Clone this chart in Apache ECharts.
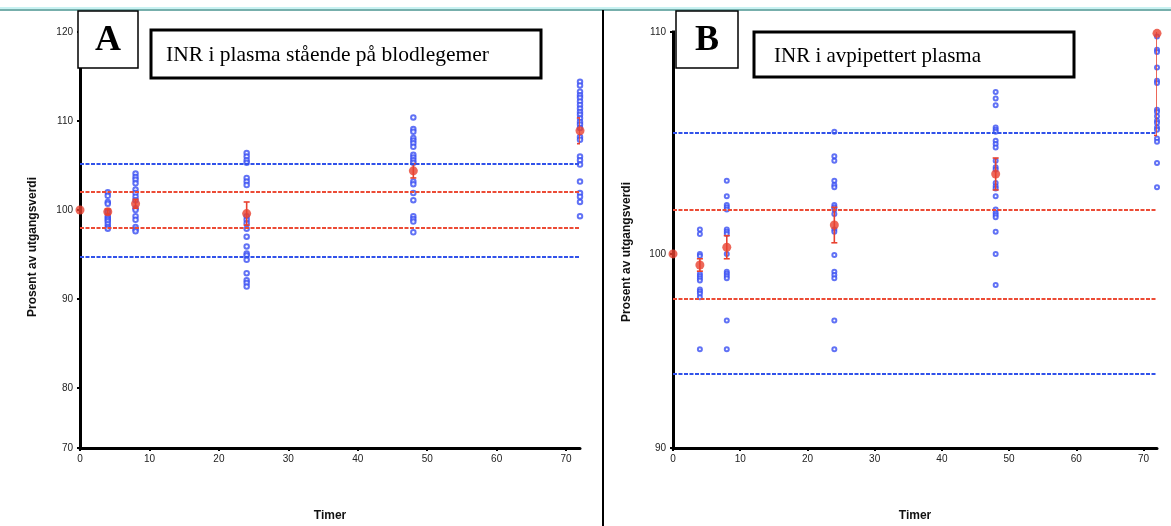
<!DOCTYPE html>
<html><head><meta charset="utf-8">
<script src="https://cdn.jsdelivr.net/npm/echarts@6/dist/echarts.min.js"></script>
<style>html,body{margin:0;padding:0;background:#fff}#c{width:1171px;height:526px}</style>
</head><body><div id="c"></div>
<script>
// ---- tick labels ----
const hourTicks = [0, 10, 20, 30, 40, 50, 60, 70];
const yTicksAUpper = [80, 90, 100, 110, 120];
const yTicksALower = [70];
const yTicksBUpper = [100, 110];
const yTicksBLower = [90];

// ---- panel A: individual values (% of baseline) ----
const a4  = [102.0, 101.6, 100.9, 100.7, 99.8, 99.3, 99.1, 98.9, 98.7, 98.4, 98.1, 97.9];
const a8  = [104.1, 103.7, 103.4, 103.0, 102.3, 101.9, 101.5, 101.1, 100.2, 100.0, 99.3, 98.9, 98.1, 97.8, 97.6];
const a24 = [106.4, 106.0, 105.6, 105.3, 103.6, 103.2, 102.8, 99.3, 98.9, 98.5, 97.9, 97.0, 95.9, 95.1, 94.9, 94.4, 92.9, 92.1, 91.8, 91.4];
const a48 = [110.4, 109.1, 108.8, 108.1, 107.8, 107.5, 107.1, 106.2, 105.9, 105.6, 105.3, 103.2, 102.9, 101.9, 101.1, 99.3, 99.0, 98.7, 97.5];
const a72 = [114.4, 114.0, 113.3, 112.9, 112.6, 112.2, 111.8, 111.4, 111.0, 110.7, 110.3, 109.9, 109.6, 109.2, 108.2, 107.9, 106.0, 105.6, 105.1, 103.2, 101.9, 101.5, 100.9, 99.3];

// ---- panel B: individual values (% of baseline) ----
const b4  = [101.1, 100.9, 100.0, 99.9, 99.1, 99.0, 98.9, 98.8, 98.4, 98.3, 98.2, 98.05, 95.7];
const b8  = [103.3, 102.6, 102.2, 102.1, 102.0, 101.1, 101.0, 100.9, 100.0, 99.2, 99.1, 99.0, 98.9, 97.0, 95.7];
const b24 = [105.5, 104.4, 104.2, 103.3, 103.1, 103.0, 102.2, 102.1, 102.0, 101.8, 101.1, 101.0, 99.95, 99.2, 99.05, 98.9, 97.0, 95.7];
const b48 = [107.3, 107.0, 106.7, 105.7, 105.6, 105.5, 105.1, 104.95, 104.8, 104.2, 103.9, 103.8, 103.2, 103.05, 102.95, 102.6, 102.0, 101.85, 101.75, 101.65, 101.0, 100.0, 98.6];
const b72 = [109.8, 109.2, 109.1, 108.4, 107.8, 107.7, 106.5, 106.4, 106.2, 106.0, 105.9, 105.7, 105.6, 105.2, 105.05, 104.1, 103.0];

// ---- means and error (±) ----
const meanHours = [0, 4, 8, 24, 48, 72];
const meanA = [100, 99.8, 100.7, 99.6, 104.4, 108.9];
const errA  = [0, 0.3, 0.5, 1.3, 0.8, 1.45];
const meanB = [100, 99.5, 100.3, 101.3, 103.6, 109.94];
const errB  = [0, 0.28, 0.52, 0.8, 0.72, 4.6];

// ---- reference limits ----
const redLimitsA = [102, 98];
const blueLimitsA = [105.25, 94.7];
const redLimitsB = [102, 98];
const blueLimitsB = [105.45, 94.6];

const sampleHours = [4, 8, 24, 48, 72];

function pairs(groups) {
  const out = [];
  groups.forEach((arr, i) => arr.forEach(v => out.push([sampleHours[i], v])));
  return out;
}
const RED = '#e8412f', BLUE = '#3a4ff2', REDLINE = '#ec4b35', BLUELINE = '#3152ea';
const tickFont = { fontFamily: 'Liberation Sans', fontSize: 10, color: '#222' };

function xAxisDef(grid, show) {
  const ax = { type: 'value', gridIndex: grid, min: 0, max: 72, show: show, splitLine: { show: false } };
  if (show) {
    Object.assign(ax, {
      axisLine: { show: true, lineStyle: { color: '#000', width: 3 } },
      axisTick: { show: true, length: 3, customValues: hourTicks, lineStyle: { color: '#000', width: 2 } },
      axisLabel: Object.assign({ customValues: hourTicks, margin: 6 }, tickFont),
      name: 'Timer', nameLocation: 'middle', nameGap: 62,
      nameTextStyle: { fontFamily: 'Liberation Sans', fontSize: 12, fontWeight: 'bold', color: '#111' }
    });
  }
  return ax;
}
function yAxisDef(grid, min, max, ticks) {
  return {
    type: 'value', gridIndex: grid, min: min, max: max, splitLine: { show: false },
    axisLine: { show: true, lineStyle: { color: '#000', width: 3, cap: 'square' } },
    axisTick: { show: true, length: 3, customValues: ticks, lineStyle: { color: '#000', width: 2 } },
    axisLabel: Object.assign({ customValues: ticks, margin: 7 }, tickFont)
  };
}
function refLines(red, blue) {
  const mk = (v, c) => ({ yAxis: v, lineStyle: { color: c, width: 2, type: [4, 1.5] } });
  return {
    silent: true, symbol: 'none', label: { show: false },
    data: red.map(v => mk(v, REDLINE)).concat(blue.map(v => mk(v, BLUELINE)))
  };
}
function errRender(params, api) {
  const x = api.value(0), lo = api.value(1), hi = api.value(2);
  const pLo = api.coord([x, lo]), pHi = api.coord([x, hi]);
  const w = 3;
  const style = { stroke: RED, lineWidth: 1.6 };
  return { type: 'group', children: [
    { type: 'line', shape: { x1: pLo[0], y1: pLo[1], x2: pHi[0], y2: pHi[1] }, style: style },
    { type: 'line', shape: { x1: pLo[0] - w, y1: pLo[1], x2: pLo[0] + w, y2: pLo[1] }, style: style },
    { type: 'line', shape: { x1: pHi[0] - w, y1: pHi[1], x2: pHi[0] + w, y2: pHi[1] }, style: style }
  ]};
}
function errData(means, errs) {
  const out = [];
  means.forEach((m, i) => { if (errs[i] > 0) out.push([meanHours[i], m - errs[i], m + errs[i]]); });
  return out;
}

const chart = echarts.init(document.getElementById('c'), null, { renderer: 'canvas' });
chart.setOption({
  animation: false,
  backgroundColor: '#fff',
  grid: [
    { left: 80, top: 32, width: 500, height: 356 },
    { left: 80, top: 388, width: 500, height: 60 },
    { left: 673, top: 32, width: 484, height: 355 },
    { left: 673, top: 387, width: 484, height: 61 }
  ],
  xAxis: [xAxisDef(0, false), xAxisDef(1, true), xAxisDef(2, false), xAxisDef(3, true)],
  yAxis: [
    yAxisDef(0, 80, 120, yTicksAUpper),
    yAxisDef(1, 70, 80, yTicksALower),
    yAxisDef(2, 94, 110, yTicksBUpper),
    yAxisDef(3, 90, 94, yTicksBLower)
  ],
  series: [
    { type: 'scatter', xAxisIndex: 0, yAxisIndex: 0, data: pairs([a4, a8, a24, a48, a72]),
      symbol: 'emptyCircle', symbolSize: 4.5, itemStyle: { color: BLUE, borderWidth: 1.2 },
      markLine: refLines(redLimitsA, blueLimitsA), z: 3 },
    { type: 'custom', xAxisIndex: 0, yAxisIndex: 0, data: errData(meanA, errA), renderItem: errRender, clip: true, z: 4 },
    { type: 'scatter', xAxisIndex: 0, yAxisIndex: 0, data: meanHours.map((h, i) => [h, meanA[i]]),
      symbol: 'circle', symbolSize: 9, itemStyle: { color: RED }, clip: false, z: 5 },

    { type: 'scatter', xAxisIndex: 2, yAxisIndex: 2, data: pairs([b4, b8, b24, b48, b72]),
      symbol: 'emptyCircle', symbolSize: 4, itemStyle: { color: BLUE, borderWidth: 1.2 },
      markLine: refLines(redLimitsB, blueLimitsB), z: 3 },
    { type: 'custom', xAxisIndex: 2, yAxisIndex: 2, data: errData(meanB, errB), renderItem: errRender, clip: true, z: 4 },
    { type: 'scatter', xAxisIndex: 2, yAxisIndex: 2, data: meanHours.map((h, i) => [h, meanB[i]]),
      symbol: 'circle', symbolSize: 9, itemStyle: { color: RED }, clip: false, z: 5 }
  ],
  graphic: [
    { type: 'line', shape: { x1: 0, y1: 10, x2: 1171, y2: 10 }, style: { stroke: '#4a9490', lineWidth: 1.5 }, z: 10 },
    { type: 'line', shape: { x1: 0, y1: 8, x2: 1171, y2: 8 }, style: { stroke: '#c8f2f2', lineWidth: 2 }, z: 10 },
    { type: 'line', shape: { x1: 603, y1: 10, x2: 603, y2: 526 }, style: { stroke: '#000', lineWidth: 2 }, z: 10 },
    // panel A labels
    { type: 'rect', shape: { x: 78, y: 11, width: 60, height: 57 }, style: { fill: '#fff', stroke: '#000', lineWidth: 1.5 }, z: 20 },
    { type: 'text', x: 108, y: 41, style: { text: 'A', font: 'bold 36px "Liberation Serif"', fill: '#000', textAlign: 'center', textVerticalAlign: 'middle', align: 'center', verticalAlign: 'middle' }, z: 21 },
    { type: 'rect', shape: { x: 151, y: 30, width: 390, height: 48 }, style: { fill: '#fff', stroke: '#000', lineWidth: 3 }, z: 20 },
    { type: 'text', x: 166, y: 55, style: { text: 'INR i plasma stående på blodlegemer', font: '21.5px "Liberation Serif"', fill: '#000', textVerticalAlign: 'middle', verticalAlign: 'middle' }, z: 21 },
    { type: 'text', x: 33, y: 247, rotation: Math.PI / 2, style: { text: 'Prosent av utgangsverdi', font: 'bold 12px "Liberation Sans"', fill: '#111', textAlign: 'center', textVerticalAlign: 'middle', align: 'center', verticalAlign: 'middle' }, z: 21 },
    // panel B labels
    { type: 'rect', shape: { x: 676, y: 11, width: 62, height: 57 }, style: { fill: '#fff', stroke: '#000', lineWidth: 1.5 }, z: 20 },
    { type: 'text', x: 707, y: 41, style: { text: 'B', font: 'bold 36px "Liberation Serif"', fill: '#000', textAlign: 'center', textVerticalAlign: 'middle', align: 'center', verticalAlign: 'middle' }, z: 21 },
    { type: 'rect', shape: { x: 754, y: 32, width: 320, height: 45 }, style: { fill: '#fff', stroke: '#000', lineWidth: 3 }, z: 20 },
    { type: 'text', x: 774, y: 56, style: { text: 'INR i avpipettert plasma', font: '21px "Liberation Serif"', fill: '#000', textVerticalAlign: 'middle', verticalAlign: 'middle' }, z: 21 },
    { type: 'text', x: 627, y: 252, rotation: Math.PI / 2, style: { text: 'Prosent av utgangsverdi', font: 'bold 12px "Liberation Sans"', fill: '#111', textAlign: 'center', textVerticalAlign: 'middle', align: 'center', verticalAlign: 'middle' }, z: 21 }
  ]
});
</script>
</body></html>
